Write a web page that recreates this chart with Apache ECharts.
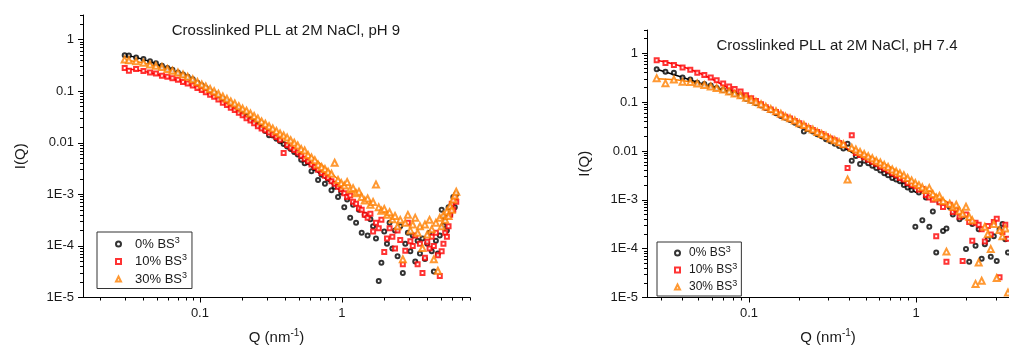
<!DOCTYPE html>
<html>
<head>
<meta charset="utf-8">
<script src="https://cdn.jsdelivr.net/npm/echarts@6/dist/echarts.min.js"></script>
<style>
  html, body { margin: 0; padding: 0; background: #fff; }
  #chart { width: 1009px; height: 350px; }
</style>
</head>
<body>
<div id="chart"></div>
<script>
// ---- pH 9 panel (left) ----
const qLeft = [0.0295, 0.0316, 0.0355, 0.040, 0.0445, 0.049, 0.054, 0.059, 0.064, 0.070, 0.076, 0.082, 0.089, 0.096, 0.103, 0.110, 0.118, 0.126, 0.135, 0.145, 0.155, 0.165, 0.176, 0.188, 0.200, 0.213, 0.227, 0.241, 0.256, 0.272, 0.289, 0.307, 0.326, 0.346, 0.367, 0.389, 0.412, 0.436, 0.462, 0.489, 0.517, 0.547, 0.578, 0.611, 0.645, 0.680, 0.720, 0.760, 0.800, 0.845, 0.890, 0.940, 0.990, 1.04, 1.09, 1.145, 1.20, 1.26, 1.32, 1.38, 1.45, 1.52, 1.59, 1.66, 1.74, 1.82, 1.90, 1.99, 2.08, 2.17, 2.27, 2.37, 2.47, 2.58, 2.69, 2.80, 2.92, 3.04, 3.16, 3.29, 3.42, 3.55, 3.70, 3.85, 4.00, 4.15, 4.30, 4.45, 4.60, 4.75, 4.90, 5.05, 5.20, 5.35, 5.50, 5.65, 5.80, 5.95, 6.10, 6.25, 6.40];
const leftBS0 = [0.50, 0.49, 0.45, 0.42, 0.38, 0.35, 0.31, 0.28, 0.26, 0.23, 0.21, 0.19, 0.17, 0.145, 0.13, 0.115, 0.10, 0.091, 0.079, 0.071, 0.062, 0.055, 0.049, 0.043, 0.037, 0.033, 0.029, 0.026, 0.022, 0.020, 0.017, 0.014, 0.0138, 0.012, 0.0107, 0.0095, 0.0085, 0.0076, 0.0066, 0.0059, 0.0047, 0.0040, 0.0042, 0.0028, 0.0032, 0.0019, 0.0024, 0.0016, 0.0020, 0.0012, 0.0014, 8.9e-4, 1.1e-3, 5.6e-4, 7.9e-4, 3.5e-4, 6.3e-4, 2.8e-4, 5.0e-4, 1.8e-4, 4.0e-4, 1.6e-4, 3.3e-4, 2.4e-4, 1.4e-4, 2.1e-5, 4.7e-5, 1.9e-4, 1.1e-4, 2.8e-4, 8.9e-5, 2.0e-4, 6.3e-5, 2.4e-4, 3.0e-5, 1.1e-4, 1.8e-4, 7.9e-5, 1.6e-4, 5.0e-5, 1.26e-4, 7.1e-5, 1.4e-4, 5.6e-5, 1.1e-4, 1.8e-4, 7.9e-5, 3.2e-5, 1.26e-4, 7.1e-5, 1.6e-4, 5.0e-4, 2.5e-4, 3.5e-4, 2.0e-4, 5.6e-4, 4.0e-4, 6.3e-4, 8.9e-4, 5.6e-4, 1.0e-3];
const leftBS10 = [0.28, 0.25, 0.27, 0.245, 0.23, 0.22, 0.20, 0.19, 0.178, 0.166, 0.151, 0.141, 0.129, 0.115, 0.105, 0.095, 0.085, 0.078, 0.069, 0.060, 0.054, 0.048, 0.043, 0.038, 0.034, 0.030, 0.027, 0.024, 0.021, 0.019, 0.0174, 0.0158, 0.0145, 0.0129, 0.0115, 0.0063, 0.0091, 0.0081, 0.0072, 0.0065, 0.0056, 0.0049, 0.0044, 0.0038, 0.0034, 0.0030, 0.0026, 0.0023, 0.0021, 0.0018, 0.0016, 0.0014, 0.00126, 0.00105, 8.9e-4, 9.5e-4, 7.2e-4, 6.6e-4, 5.4e-4, 5.0e-4, 4.0e-4, 3.5e-4, 4.2e-4, 1.9e-4, 2.8e-4, 2.2e-4, 3.2e-4, 7.6e-5, 1.4e-4, 2.2e-4, 1.5e-4, 8.9e-5, 2.0e-4, 1.3e-4, 4.4e-5, 8.1e-5, 2.8e-4, 1.23e-4, 1.0e-4, 1.6e-4, 4.4e-5, 1.1e-4, 3.0e-5, 5.9e-5, 1.2e-4, 8.9e-5, 1.5e-4, 1.0e-4, 1.8e-4, 6.6e-5, 2.6e-5, 7.9e-5, 1.1e-4, 1.8e-4, 1.5e-4, 2.4e-4, 4.0e-4, 6.6e-4, 5.0e-4, 8.1e-4, 7.2e-4];
const leftBS30 = [0.41, 0.40, 0.38, 0.355, 0.33, 0.31, 0.295, 0.27, 0.25, 0.23, 0.21, 0.19, 0.17, 0.151, 0.135, 0.123, 0.11, 0.10, 0.089, 0.079, 0.071, 0.063, 0.058, 0.051, 0.046, 0.042, 0.037, 0.033, 0.0295, 0.026, 0.0234, 0.0209, 0.019, 0.017, 0.0151, 0.0138, 0.0126, 0.0112, 0.0100, 0.0089, 0.0076, 0.0071, 0.0058, 0.0052, 0.0046, 0.0038, 0.0034, 0.0031, 0.00275, 0.0025, 0.0041, 0.0019, 0.00166, 0.00148, 0.00174, 0.00126, 0.00132, 0.00105, 0.00112, 8.9e-4, 7.6e-4, 8.3e-4, 6.3e-4, 7.1e-4, 1.55e-3, 5.6e-4, 4.8e-4, 5.2e-4, 4.0e-4, 4.5e-4, 3.3e-4, 3.8e-4, 2.4e-4, 3.2e-4, 5.5e-5, 2.8e-4, 4.0e-4, 2.0e-4, 2.6e-4, 3.5e-4, 1.8e-4, 2.4e-4, 9.1e-5, 2.6e-4, 1.66e-4, 3.2e-4, 2.1e-4, 5.5e-5, 2.8e-4, 3.3e-5, 3.5e-4, 2.4e-4, 4.0e-4, 3.2e-4, 4.7e-4, 3.8e-4, 6.0e-4, 5.0e-4, 7.9e-4, 9.5e-4, 1.12e-3];
const fitQLeft = [0.03, 0.05, 0.1, 0.2, 0.4, 0.7, 1.0];
const fitLeftBS0 = [0.50, 0.33, 0.126, 0.035, 0.0089, 0.0025, 0.00112];
const fitLeftBS10 = [0.275, 0.21, 0.107, 0.034, 0.0095, 0.0030, 0.00126];
const fitLeftBS30 = [0.40, 0.30, 0.132, 0.046, 0.0126, 0.0040, 0.00166];

// ---- pH 7.4 panel (right) ----
const qRight = [0.028, 0.0316, 0.0355, 0.040, 0.0445, 0.049, 0.054, 0.059, 0.064, 0.070, 0.076, 0.082, 0.089, 0.096, 0.103, 0.110, 0.118, 0.126, 0.135, 0.145, 0.155, 0.165, 0.176, 0.188, 0.200, 0.213, 0.227, 0.241, 0.256, 0.272, 0.289, 0.307, 0.326, 0.346, 0.367, 0.389, 0.412, 0.436, 0.462, 0.489, 0.517, 0.547, 0.578, 0.611, 0.645, 0.680, 0.720, 0.760, 0.800, 0.845, 0.890, 0.940, 0.990, 1.04, 1.09, 1.145, 1.20, 1.26, 1.32, 1.38, 1.45, 1.52, 1.59, 1.66, 1.74, 1.82, 1.90, 1.99, 2.08, 2.17, 2.27, 2.37, 2.47, 2.58, 2.69, 2.80, 2.92, 3.04, 3.16, 3.29, 3.42, 3.55];
const rightBS0 = [0.47, 0.42, 0.40, 0.32, 0.29, 0.25, 0.235, 0.22, 0.195, 0.178, 0.162, 0.148, 0.135, 0.117, 0.107, 0.095, 0.085, 0.076, 0.068, 0.059, 0.052, 0.048, 0.043, 0.038, 0.034, 0.025, 0.028, 0.025, 0.022, 0.020, 0.0174, 0.0158, 0.0141, 0.0126, 0.0112, 0.0141, 0.0063, 0.0079, 0.0054, 0.0063, 0.0056, 0.0050, 0.0045, 0.0040, 0.0035, 0.0032, 0.0028, 0.0026, 0.0024, 0.0020, 0.00178, 0.00158, 2.8e-4, 0.00141, 3.8e-4, 0.00112, 2.8e-4, 5.8e-4, 8.3e-5, 8.9e-4, 2.3e-4, 2.6e-4, 7.1e-4, 5.0e-4, 6.3e-4, 4.0e-4, 4.5e-4, 9.8e-5, 5.4e-5, 3.2e-4, 1.15e-4, 2.5e-4, 6.2e-5, 1.23e-4, 1.55e-4, 6.8e-5, 1.8e-4, 5.6e-5, 2.5e-4, 3.2e-4, 1.55e-4, 8.3e-5];
const rightBS10 = [0.72, 0.63, 0.575, 0.51, 0.46, 0.40, 0.36, 0.32, 0.28, 0.24, 0.21, 0.186, 0.166, 0.138, 0.12, 0.105, 0.091, 0.079, 0.071, 0.063, 0.056, 0.050, 0.046, 0.041, 0.037, 0.033, 0.0295, 0.027, 0.0245, 0.0224, 0.020, 0.018, 0.0166, 0.0145, 0.0132, 0.0045, 0.021, 0.0091, 0.0083, 0.0074, 0.0066, 0.0060, 0.0055, 0.0048, 0.0044, 0.0040, 0.0035, 0.0032, 0.0028, 0.0026, 0.0022, 0.0020, 0.0019, 0.0016, 0.00166, 0.00126, 0.00112, 0.0010, 1.8e-4, 8.9e-4, 7.1e-4, 5.4e-5, 7.9e-4, 5.6e-4, 6.3e-4, 4.5e-4, 5.6e-5, 5.0e-4, 3.5e-4, 1.45e-4, 3.4e-4, 3.1e-4, 2.5e-4, 1.4e-4, 2.9e-4, 1.95e-4, 3.5e-4, 4.1e-4, 2.6e-5, 2.2e-4, 3.1e-4, 1.6e-4];
const rightBS30 = [0.31, 0.245, 0.29, 0.26, 0.257, 0.24, 0.224, 0.209, 0.195, 0.182, 0.166, 0.151, 0.138, 0.123, 0.112, 0.102, 0.091, 0.081, 0.072, 0.065, 0.058, 0.051, 0.047, 0.042, 0.037, 0.034, 0.030, 0.0275, 0.0245, 0.0224, 0.0204, 0.018, 0.0166, 0.0151, 0.0138, 0.0026, 0.0117, 0.0107, 0.0095, 0.0087, 0.0078, 0.0071, 0.0063, 0.0058, 0.0052, 0.0047, 0.0042, 0.0038, 0.0035, 0.0032, 0.0028, 0.0025, 0.0022, 0.0020, 0.0018, 0.00158, 0.00174, 0.00132, 0.00112, 0.0012, 9.5e-4, 8.7e-5, 8.3e-4, 7.1e-4, 7.9e-4, 6.0e-4, 5.2e-4, 7.2e-4, 4.5e-4, 3.8e-4, 1.9e-5, 5.2e-5, 2.2e-5, 2.8e-4, 2.0e-4, 9.8e-5, 3.2e-4, 2.5e-5, 2.4e-4, 1.8e-4, 2.6e-4, 1.26e-5];
const fitQRight = [0.028, 0.05, 0.1, 0.2, 0.4, 0.7, 1.0, 1.5, 2.07];
const fitRightBS0 = [0.47, 0.25, 0.112, 0.035, 0.010, 0.0032, 0.0014];
const fitRightBS10 = [0.72, 0.40, 0.112, 0.037, 0.0105, 0.0042];
const fitRightBS30 = [0.30, 0.24, 0.117, 0.037, 0.0126, 0.0047, 0.0022, 9.5e-4, 4.3e-4];

// axis ticks
const yMajor = [1e-5, 1e-4, 1e-3, 0.01, 0.1, 1];
const xMajor = [0.1, 1];
const legendNames = ['0% BS', '10% BS', '30% BS'];
const colors = ['#000000', '#ff0000', '#ff8000'];
const symbols = ['emptyCircle', 'emptyRect', 'emptyTriangle'];
const symbolSizes = [4, 4, 6];

function minorTicks(lo, hi) {
  const out = [];
  for (let e = -6; e <= 1; e++) {
    for (let m = 2; m <= 9; m++) {
      const v = +(m * Math.pow(10, e)).toPrecision(6);
      if (v >= lo && v <= hi) out.push(v);
    }
  }
  return out;
}

function pairs(q, v) {
  return v.map((y, i) => [q[i], y]);
}

const font = 'Liberation Sans, Arial, sans-serif';
const ink = '#1a1a1a';

function yLabel(v) {
  if (v >= 0.01) return String(+v.toPrecision(3));
  return '1E' + Math.round(Math.log10(v));
}

function majorAxis(kind, grid, min, max, ticks, name, nameGap) {
  return {
    type: 'log', logBase: 10, gridIndex: grid, min: min, max: max,
    position: kind === 'x' ? 'bottom' : 'left',
    splitLine: { show: false },
    axisLine: { onZero: false, lineStyle: { color: '#000', width: 1 } },
    axisTick: { customValues: ticks, length: 5, lineStyle: { color: '#000' } },
    axisLabel: {
      customValues: ticks, fontSize: 13, color: ink, fontFamily: font, margin: 9,
      formatter: kind === 'x' ? (v => String(+v.toPrecision(3))) : yLabel
    },
    name: name, nameLocation: 'middle', nameGap: nameGap,
    nameTextStyle: {
      fontFamily: font, color: ink, fontSize: 15,
      rich: {
        a: { fontSize: 15, fontFamily: font, color: ink },
        b: { fontSize: 10, fontFamily: font, color: ink, padding: [0, 0, 8, 0] }
      }
    }
  };
}

function minorAxis(kind, grid, min, max, ticks) {
  return {
    type: 'log', logBase: 10, gridIndex: grid, min: min, max: max,
    position: kind === 'x' ? 'bottom' : 'left',
    splitLine: { show: false },
    axisLine: { show: false, onZero: false },
    axisTick: { customValues: ticks, length: 3, lineStyle: { color: '#000' } },
    axisLabel: { show: false }
  };
}

const xNameRich = '{a|Q (nm}{b|-1}{a|)}';

const xAxes = [
  majorAxis('x', 0, 0.015, 8, xMajor, xNameRich, 31),
  minorAxis('x', 0, 0.015, 8, minorTicks(0.015, 8)),
  majorAxis('x', 1, 0.0245, 3.6, xMajor, xNameRich, 31),
  minorAxis('x', 1, 0.0245, 3.6, minorTicks(0.0245, 3.6))
];
const yAxes = [
  majorAxis('y', 0, 1e-5, 3, yMajor, 'I(Q)', 55),
  minorAxis('y', 0, 1e-5, 3, minorTicks(1e-5, 3)),
  majorAxis('y', 1, 1e-5, 3, yMajor, 'I(Q)', 55),
  minorAxis('y', 1, 1e-5, 3, minorTicks(1e-5, 3))
];

const panels = [
  { axis: 0, q: qLeft, sets: [leftBS0, leftBS10, leftBS30], fitQ: fitQLeft, fits: [fitLeftBS0, fitLeftBS10, fitLeftBS30] },
  { axis: 2, q: qRight, sets: [rightBS0, rightBS10, rightBS30], fitQ: fitQRight, fits: [fitRightBS0, fitRightBS10, fitRightBS30] }
];

const series = [];
panels.forEach(p => {
  p.fits.forEach((f, k) => {
    series.push({
      type: 'line', xAxisIndex: p.axis, yAxisIndex: p.axis,
      data: pairs(p.fitQ, f), smooth: true, showSymbol: false, silent: true,
      lineStyle: { color: colors[k], width: 1.5 }, z: 1
    });
  });
  p.sets.forEach((s, k) => {
    series.push({
      type: 'scatter', name: legendNames[k], xAxisIndex: p.axis, yAxisIndex: p.axis,
      data: pairs(p.q, s), symbol: symbols[k], symbolSize: symbolSizes[k],
      itemStyle: { color: colors[k], borderWidth: 1 }, z: 2 + k
    });
  });
});

function legendAt(left, top, size, pad, textPad) {
  return {
    orient: 'vertical', left: left, top: top,
    data: legendNames.map((n, k) => ({ name: n, icon: symbols[k] })),
    borderColor: '#333', borderWidth: 1, padding: pad, itemGap: 3,
    itemWidth: 5, itemHeight: 5, selectedMode: false,
    formatter: n => '{t|' + n + '}{s|3}',
    textStyle: {
      color: ink, fontFamily: font, fontSize: size,
      rich: {
        t: { fontSize: size, fontFamily: font, color: ink, padding: [0, 0, 0, textPad] },
        s: { fontSize: 9, fontFamily: font, color: ink, padding: [0, 0, 7, 0] }
      }
    }
  };
}

const chart = echarts.init(document.getElementById('chart'), null, { renderer: 'canvas' });
chart.setOption({
  animation: false,
  backgroundColor: '#ffffff',
  textStyle: { fontFamily: font },
  title: [
    { text: 'Crosslinked PLL at 2M NaCl, pH 9', left: 286, top: 23, textAlign: 'center', padding: 0,
      textStyle: { fontSize: 15, fontWeight: 'normal', color: ink, fontFamily: font } },
    { text: 'Crosslinked PLL at 2M NaCl, pH 7.4', left: 837, top: 38, textAlign: 'center', padding: 0,
      textStyle: { fontSize: 15, fontWeight: 'normal', color: ink, fontFamily: font } }
  ],
  grid: [
    { left: 83, top: 15, width: 387, height: 285 },
    { left: 647, top: 30, width: 362, height: 273 }
  ],
  legend: [
    legendAt(97, 232, 13, [4, 5, 3, 18], 9),
    legendAt(657, 242, 12, [3, 4, 3, 17], 4)
  ],
  xAxis: xAxes,
  yAxis: yAxes,
  series: series
});
</script>
</body>
</html>
